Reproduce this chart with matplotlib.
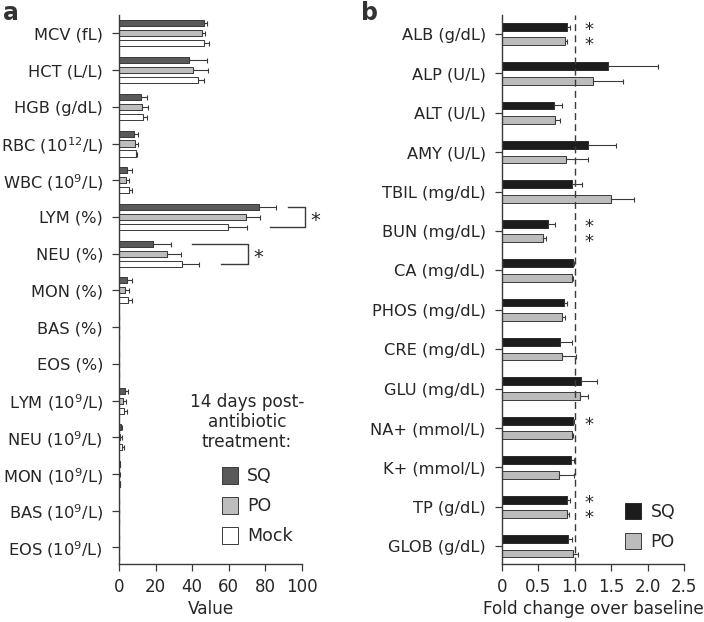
import numpy as np
import matplotlib
matplotlib.use('Agg')
import matplotlib.pyplot as plt

plt.rcParams['font.family'] = ['DejaVu Sans']
plt.rcParams['mathtext.default'] = 'regular'
plt.rcParams['font.size'] = 12

TXT = '#262626'

# ---------------- panel a data ----------------
cbc_labels = ['MCV (fL)', 'HCT (L/L)', 'HGB (g/dL)', 'RBC (10$^{12}$/L)', 'WBC (10$^{9}$/L)',
              'LYM (%)', 'NEU (%)', 'MON (%)', 'BAS (%)', 'EOS (%)',
              'LYM (10$^{9}$/L)', 'NEU (10$^{9}$/L)', 'MON (10$^{9}$/L)',
              'BAS (10$^{9}$/L)', 'EOS (10$^{9}$/L)']
sq_a = [46.4, 38.4, 12.2, 8.0, 4.6, 76.3, 18.8, 4.2, 0, 0, 3.3, 1.1, 0.3, 0, 0]
sq_a_err = [1.7, 9.7, 3.1, 2.4, 2.4, 9.3, 9.6, 2.8, 0, 0, 1.5, 0.7, 0.1, 0, 0]
po_a = [45.5, 40.4, 12.8, 8.7, 3.6, 69.6, 26.2, 3.3, 0, 0, 2.2, 0.8, 0.2, 0, 0]
po_a_err = [1.6, 8.1, 3.0, 1.5, 1.9, 7.3, 7.5, 2.2, 0, 0, 1.6, 1.0, 0.1, 0, 0]
mock_a = [46.4, 43.2, 13.3, 9.1, 5.5, 59.8, 34.4, 4.8, 0, 0, 2.7, 1.5, 0.3, 0, 0]
mock_a_err = [2.8, 3.2, 1.8, 0.9, 1.8, 10.4, 9.3, 2.2, 0, 0, 1.9, 1.1, 0.1, 0, 0]

# ---------------- panel b data ----------------
chem_labels = ['ALB (g/dL)', 'ALP (U/L)', 'ALT (U/L)', 'AMY (U/L)', 'TBIL (mg/dL)',
               'BUN (mg/dL)', 'CA (mg/dL)', 'PHOS (mg/dL)', 'CRE (mg/dL)', 'GLU (mg/dL)',
               'NA+ (mmol/L)', 'K+ (mmol/L)', 'TP (g/dL)', 'GLOB (g/dL)']
sq_b = [0.89, 1.46, 0.71, 1.18, 0.96, 0.63, 0.97, 0.85, 0.80, 1.09, 0.97, 0.95, 0.89, 0.91]
sq_b_err = [0.05, 0.68, 0.12, 0.38, 0.14, 0.10, 0.02, 0.05, 0.16, 0.22, 0.02, 0.04, 0.05, 0.05]
po_b = [0.86, 1.25, 0.73, 0.88, 1.49, 0.57, 0.96, 0.82, 0.83, 1.07, 0.96, 0.78, 0.89, 0.98]
po_b_err = [0.03, 0.41, 0.07, 0.30, 0.32, 0.04, 0.02, 0.05, 0.19, 0.11, 0.02, 0.21, 0.03, 0.06]
# significance stars per row: 'both' = SQ and PO, 'sq' = SQ only
stars_b = {0: 'both', 5: 'both', 10: 'sq', 12: 'both'}

fig = plt.figure(figsize=(7.04, 6.22), dpi=100)

def style(ax):
    for s in ['top', 'right']:
        ax.spines[s].set_visible(False)
    for s in ['left', 'bottom']:
        ax.spines[s].set_color('#3a3a3a')
        ax.spines[s].set_linewidth(1.0)
    ax.tick_params(axis='y', length=5, width=0.9, color='#3a3a3a', pad=6.5, labelcolor=TXT, labelsize=11.7)
    ax.tick_params(axis='x', length=5, width=0.9, color='#3a3a3a', pad=5, labelcolor=TXT, labelsize=12)

ekw = dict(ecolor='#3a3a3a', elinewidth=0.8, capsize=1.8, capthick=0.8)

# ================= panel a =================
axa = fig.add_axes([119/704, 58/622, 183/704, 549/622])
y = np.arange(len(cbc_labels))
h, off = 0.165, 0.272
z = np.zeros(len(y))
axa.barh(y - off, sq_a, h, color='#5a5a5a', edgecolor='#3a3a3a', lw=0.7,
         xerr=[z, sq_a_err], error_kw=ekw, label='SQ')
axa.barh(y, po_a, h, color='#bdbdbd', edgecolor='#3a3a3a', lw=0.7,
         xerr=[z, po_a_err], error_kw=ekw, label='PO')
axa.barh(y + off, mock_a, h, color='white', edgecolor='#3a3a3a', lw=0.7,
         xerr=[z, mock_a_err], error_kw=ekw, label='Mock')
axa.set_xlim(0, 100)
axa.set_ylim(14.45, -0.5)
axa.set_yticks(y)
axa.set_yticklabels(cbc_labels)
axa.set_xticks([0, 20, 40, 60, 80, 100])
axa.set_xlabel('Value', color=TXT, labelpad=3, fontsize=12.2)
style(axa)

# brackets (LYM %, NEU %)
bk = dict(color='#3a3a3a', lw=1.0, clip_on=False)
axa.plot([92.3, 101.5, 101.5, 82.3], [5 - off, 5 - off, 5 + off, 5 + off], **bk)
axa.text(104.5, 5 + 0.1, '*', ha='left', va='center', fontsize=14, color=TXT, clip_on=False)
axa.plot([39.9, 70.5, 70.5, 55.6], [6 - off, 6 - off, 6 + off, 6 + off], **bk)
axa.text(73.5, 6 + 0.1, '*', ha='left', va='center', fontsize=14, color=TXT)

axa.text(0.70, 0.312, '14 days post-\nantibiotic\ntreatment:', transform=axa.transAxes,
         ha='center', va='top', multialignment='center', fontsize=12.2,
         linespacing=1.15, color=TXT)
leg = axa.legend(frameon=False, loc='upper left', bbox_to_anchor=(0.475, 0.205),
                 handlelength=0.92, handleheight=1.1, handletextpad=0.55,
                 labelspacing=0.68, fontsize=12.5)
for t in leg.get_texts():
    t.set_color(TXT)

# ================= panel b =================
axb = fig.add_axes([501.7/704, 58/622, 182.6/704, 549/622])
yb = np.arange(len(chem_labels))
hb, offb = 0.2, 0.185
zb = np.zeros(len(yb))
axb.barh(yb - offb, sq_b, hb, color='#1c1c1c', edgecolor='#2a2a2a', lw=0.7,
         xerr=[zb, sq_b_err], error_kw=ekw, label='SQ')
axb.barh(yb + offb, po_b, hb, color='#bcbcbc', edgecolor='#3a3a3a', lw=0.7,
         xerr=[zb, po_b_err], error_kw=ekw, label='PO')
axb.axvline(1.0, color='#3a3a3a', lw=1.0, ls=(0, (5, 3)))
for r, kind in stars_b.items():
    if kind == 'both':
        axb.text(1.13, r + 0.1, '*\n*', ha='left', va='center', fontsize=13,
                 linespacing=0.78, color=TXT)
    else:
        axb.text(1.13, r - offb + 0.1, '*', ha='left', va='center', fontsize=13, color=TXT)
axb.set_xlim(0, 2.5)
axb.set_ylim(13.45, -0.48)
axb.set_yticks(yb)
axb.set_yticklabels(chem_labels)
axb.set_xticks([0, 0.5, 1.0, 1.5, 2.0, 2.5])
axb.set_xticklabels(['0', '0.5', '1.0', '1.5', '2.0', '2.5'])
axb.set_xlabel('Fold change over baseline', color=TXT, labelpad=3, fontsize=12.2)
style(axb)

legb = axb.legend(frameon=False, loc='upper left', bbox_to_anchor=(0.59, 0.14),
                  handlelength=0.92, handleheight=1.1, handletextpad=0.55,
                  labelspacing=0.68, fontsize=12.5)
for t in legb.get_texts():
    t.set_color(TXT)

fig.text(3/704, 1 - 20/622, 'a', fontsize=17, fontweight='bold', color='#333333')
fig.text(361/704, 1 - 20/622, 'b', fontsize=17, fontweight='bold', color='#333333')

fig.savefig('out.png', dpi=100)
